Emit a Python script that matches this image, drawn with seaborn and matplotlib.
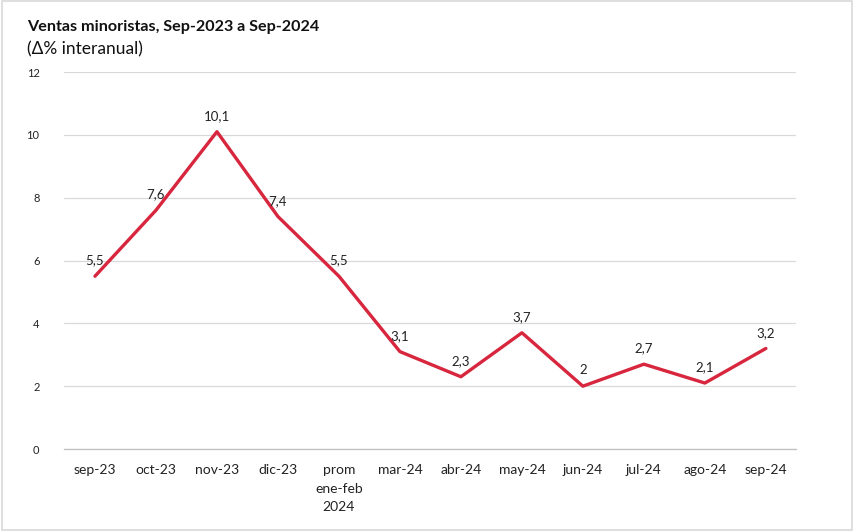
import numpy as np
import pandas as pd
import seaborn as sns
import matplotlib.pyplot as plt

# Datos
meses = ['sep-23', 'oct-23', 'nov-23', 'dic-23', 'prom\nene-feb\n2024', 'mar-24',
         'abr-24', 'may-24', 'jun-24', 'jul-24', 'ago-24', 'sep-24']
variacion = [5.5, 7.6, 10.1, 7.4, 5.5, 3.1, 2.3, 3.7, 2.0, 2.7, 2.1, 3.2]
etiquetas = ['5,5', '7,6', '10,1', '7,4', '5,5', '3,1', '2,3', '3,7', '2', '2,7', '2,1', '3,2']
yticks = [0, 2, 4, 6, 8, 10, 12]

df = pd.DataFrame({'mes': meses, 'var': variacion, 'pos': np.arange(len(meses))})

sns.set_style('white')
plt.rcParams['font.family'] = ['Lato', 'DejaVu Sans']

fig = plt.figure(figsize=(8.54, 5.31), dpi=100)
ax = fig.add_axes([0.0755, 0.1544, 0.857, 0.71])

sns.lineplot(data=df, x='pos', y='var', color='#D7263D', linewidth=2.4, ax=ax)

for x, y, t in zip(df['pos'], df['var'], etiquetas):
    ax.annotate(t, (x, y), xytext=(0, 7), textcoords='offset points',
                ha='center', va='bottom', fontsize=9.5, color='#222222')

ax.set_xlim(-0.5, len(meses) - 0.5)
ax.set_ylim(0, 12)
ax.set_yticks(yticks)
ax.set_yticklabels([str(v) for v in yticks], fontsize=8, color='#222222')
ax.set_xticks(df['pos'])
ax.set_xticklabels(meses, fontsize=10, color='#222222', linespacing=1.65)
ax.tick_params(axis='x', length=0, pad=11)
ax.tick_params(axis='y', length=0, pad=18)

# lineas de division entre categorias
ax.set_xticks(np.arange(-0.5, len(meses), 1), minor=True)
ax.tick_params(axis='x', which='minor', length=4, color='#BFBFBF', width=0.8)

ax.grid(axis='y', color='#D9D9D9', linewidth=0.9)
ax.grid(axis='x', visible=False)
for s in ['top', 'right', 'left']:
    ax.spines[s].set_visible(False)
ax.spines['bottom'].set_color('#BFBFBF')
ax.spines['bottom'].set_linewidth(0.9)
ax.set_xlabel('')
ax.set_ylabel('')

fig.text(0.0316, 0.949, 'Ventas minoristas, Sep-2023 a Sep-2024', fontsize=11.6,
         fontweight='bold', color='#111111', va='center')
fig.text(0.0316, 0.907, '(Δ% interanual)', fontsize=12.5, color='#111111', va='center')

# marco
fig.patches.append(plt.Rectangle((0.002, 0.002), 0.996, 0.996, transform=fig.transFigure,
                                 fill=False, edgecolor='#D9D9D9', linewidth=1.2))

fig.savefig('out.png', dpi=100)
